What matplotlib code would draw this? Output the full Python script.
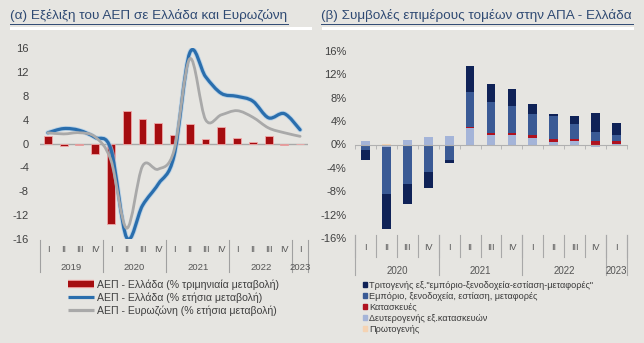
import numpy as np
import matplotlib
matplotlib.use("Agg")
import matplotlib.pyplot as plt
from matplotlib.path import Path
from matplotlib.patches import PathPatch, Rectangle
from matplotlib.lines import Line2D
import matplotlib.patheffects as pe

plt.rcParams['font.family'] = ['Liberation Sans', 'DejaVu Sans']

# ---------------- data: left panel ----------------
left_quarters = ['I', 'II', 'III', 'IV'] * 4 + ['I']
left_years = ['2019', '2020', '2021', '2022', '2023']
gdp_gr_qoq = [1.2, -0.4, -0.3, -1.8, -13.5, 5.5, 4.1, 3.4, 1.4, 3.3, 0.7, 2.7,
              1.0, 0.3, 1.2, -0.2, 0.0]
gdp_gr_yoy = [1.8, 2.5, 2.2, 1.0, -1.0, -15.8, -10.4, -6.8, -2.1, 15.2, 11.2,
              8.4, 7.9, 7.1, 4.3, 5.0, 2.3]
gdp_ez_yoy = [1.8, 1.6, 1.8, 1.1, -2.8, -14.2, -3.8, -4.3, -1.2, 14.2, 4.0,
              4.8, 5.5, 4.4, 2.6, 1.8, 1.2]
left_yticks = [-16, -12, -8, -4, 0, 4, 8, 12, 16]
left_labels = ['ΑΕΠ - Ελλάδα (% τριμηνιαία μεταβολή)',
               'ΑΕΠ - Ελλάδα (% ετήσια μεταβολή)',
               'ΑΕΠ - Ευρωζώνη (% ετήσια μεταβολή)']

# ---------------- data: right panel ----------------
right_quarters = ['I', 'II', 'III', 'IV'] * 3 + ['I']
right_years = ['2020', '2021', '2022', '2023']
primary = [0.0, 0.1, -0.3, -0.2, 0.0, 0.0, 0.0, -0.2, 0.0, 0.0, 0.0, 0.0, 0.0]
secondary = [0.6, -0.5, 0.85, 1.2, 1.4, 2.9, 1.6, 1.7, 1.15, 0.35, 0.55, -0.4, 0.15]
construction = [0.0, 0.0, 0.0, 0.0, 0.0, 0.1, 0.4, 0.35, 0.45, 0.55, 0.45, 0.6, 0.45]
trade = [-1.0, -8.0, -6.4, -4.5, -2.6, 5.9, 5.3, 4.55, 3.7, 3.95, 2.45, 1.6, 0.95]
tertiary_ex = [-1.7, -6.0, -3.5, -2.8, -0.6, 4.6, 3.1, 2.85, 1.6, 0.35, 1.4, 3.2, 2.1]
right_yticks = [-16, -12, -8, -4, 0, 4, 8, 12, 16]
right_labels = ['Τριτογενής εξ."εμπόριο-ξενοδοχεία-εστίαση-μεταφορές"',
                'Εμπόριο, ξενοδοχεία, εστίαση, μεταφορές',
                'Κατασκευές',
                'Δευτερογενής εξ.κατασκευών',
                'Πρωτογενής']

# ---------------- style ----------------
BG = '#e6e5e1'
TITLE_C = '#2f4a73'
TXT = '#404040'
RED = '#a50d10'
BLUE = '#2a6ead'
GREY = '#a9a9a9'
C_TER = '#0f2257'
C_TRADE = '#3a5a95'
C_CONS = '#b0121f'
C_SEC = '#a4b4d8'
C_PRIM = '#f5d3b3'

W, H = 644, 343
fig = plt.figure(figsize=(W / 100, H / 100), dpi=100, facecolor=BG)


def ax_rect(x0, y0, x1, y1):
    return [x0 / W, 1 - y1 / H, (x1 - x0) / W, (y1 - y0) / H]


def smooth_path(xs, ys, k=1 / 6):
    pts = np.column_stack([xs, ys]).astype(float)
    n = len(pts)
    verts = [pts[0]]
    codes = [Path.MOVETO]
    for i in range(n - 1):
        p0 = pts[i - 1] if i > 0 else pts[i]
        p1 = pts[i]
        p2 = pts[i + 1]
        p3 = pts[i + 2] if i + 2 < n else pts[i + 1]
        c1 = p1 + (p2 - p0) * k
        c2 = p2 - (p3 - p1) * k
        verts += [c1, c2, p2]
        codes += [Path.CURVE4] * 3
    return Path(verts, codes)


# ---------------- titles ----------------
fig.text(10 / W, 1 - 16 / H, '(α) Εξέλιξη του ΑΕΠ σε Ελλάδα και Ευρωζώνη',
         color=TITLE_C, fontsize=9.7, va='center', ha='left')
fig.text(321 / W, 1 - 16 / H, '(β) Συμβολές επιμέρους τομέων στην ΑΠΑ - Ελλάδα',
         color=TITLE_C, fontsize=9.7, va='center', ha='left')
for (x0, x1) in [(10, 288), (321, 633)]:
    fig.add_artist(Line2D([x0 / W, x1 / W], [1 - 23.5 / H] * 2, color=TITLE_C, lw=0.7))
for (x0, x1) in [(10, 312), (322, 634)]:
    fig.add_artist(Rectangle((x0 / W, 1 - 30 / H), (x1 - x0) / W, 2.5 / H,
                             transform=fig.transFigure, facecolor='white',
                             edgecolor='none'))

# ---------------- left panel ----------------
axL = fig.add_axes(ax_rect(40, 48, 308, 239))
axL.set_facecolor(BG)
nL = len(gdp_gr_qoq)
xL = np.arange(nL)
axL.bar(xL, gdp_gr_qoq, width=0.5, color=RED, edgecolor='#f0a8a8',
        linewidth=0.6, zorder=2)
axL.axhline(0, color='#a8a8a8', lw=1.0, zorder=1)

blue_patch = PathPatch(smooth_path(xL, gdp_gr_yoy), fill=False, edgecolor=BLUE,
                       lw=2.3, zorder=3, capstyle='round', joinstyle='round')
blue_patch.set_path_effects([pe.Stroke(linewidth=3.6, foreground='#a9cbe8', alpha=0.7),
                             pe.Normal()])
axL.add_patch(blue_patch)
grey_patch = PathPatch(smooth_path(xL, gdp_ez_yoy), fill=False, edgecolor=GREY,
                       lw=2.0, zorder=4, capstyle='round', joinstyle='round')
axL.add_patch(grey_patch)

axL.set_xlim(-0.5, nL - 0.5)
axL.set_ylim(-16, 16)
axL.set_yticks(left_yticks)
axL.set_yticklabels([str(v) for v in left_yticks])
axL.tick_params(axis='y', length=0, pad=8, labelsize=8, labelcolor=TXT)
axL.set_xticks([])
for s in axL.spines.values():
    s.set_visible(False)

trL = axL.get_xaxis_transform()
hL = 191.0
for i, q in enumerate(left_quarters):
    axL.text(i, -10 / hL, q, transform=trL, ha='center', va='center',
             fontsize=6.5, color='#555555')
year_bounds_L = [-0.5, 3.5, 7.5, 11.5, 15.5, 16.5]
for b in year_bounds_L:
    axL.add_line(Line2D([b, b], [-1 / hL, -33 / hL], transform=trL, color='#a0a0a0',
                        lw=0.8, clip_on=False))
for j, yr in enumerate(left_years):
    c = (year_bounds_L[j] + year_bounds_L[j + 1]) / 2
    axL.text(c, -28 / hL, yr, transform=trL, ha='center', va='center',
             fontsize=6.8, color='#555555')

handles_L = [Line2D([], [], color=RED, lw=4.5, solid_capstyle='butt',
                    path_effects=[pe.Stroke(linewidth=6, foreground='#f3a5a5'), pe.Normal()]),
             Line2D([], [], color=BLUE, lw=2.3, solid_capstyle='butt'),
             Line2D([], [], color=GREY, lw=2.3, solid_capstyle='butt')]
legL = fig.legend(handles_L, left_labels, loc='upper left',
                  bbox_to_anchor=(61 / W, 1 - 272 / H), frameon=False,
                  fontsize=7.6, labelcolor=TXT, handlelength=2.4,
                  handletextpad=0.3, labelspacing=0.22, borderpad=0.2)

# ---------------- right panel ----------------
axR = fig.add_axes(ax_rect(355, 51, 627, 238))
axR.set_facecolor(BG)
nR = len(trade)
xR = np.arange(nR)
series = [(primary, C_PRIM), (secondary, C_SEC), (construction, C_CONS),
          (trade, C_TRADE), (tertiary_ex, C_TER)]
pos = np.zeros(nR)
neg = np.zeros(nR)
for vals, col in series:
    v = np.asarray(vals, dtype=float)
    bottom = np.where(v >= 0, pos, neg)
    axR.bar(xR, v, bottom=bottom, width=0.42, color=col, edgecolor='none', zorder=2)
    pos = np.where(v >= 0, pos + v, pos)
    neg = np.where(v < 0, neg + v, neg)

axR.set_xlim(-0.5, nR - 0.5)
axR.set_ylim(-16, 16)
axR.set_yticks(right_yticks)
axR.set_yticklabels([f'{v}%' for v in right_yticks])
axR.tick_params(axis='y', length=0, pad=6, labelsize=8, labelcolor=TXT)
for s in ['top', 'right', 'left']:
    axR.spines[s].set_visible(False)
axR.spines['bottom'].set_position(('data', 0))
axR.spines['bottom'].set_color('#b0b0b0')
axR.spines['bottom'].set_zorder(3)
axR.set_xticks([])
axR.set_xticks(np.arange(-0.5, nR), minor=True)
axR.tick_params(axis='x', which='minor', length=3, color='#b0b0b0', direction='out')

trR = axR.get_xaxis_transform()
hR = 187.0
for i, q in enumerate(right_quarters):
    axR.text(i, -10 / hR, q, transform=trR, ha='center', va='center',
             fontsize=6.5, color='#555555')
for b in np.arange(-0.5, nR):
    axR.add_line(Line2D([b, b], [3 / hR, -19 / hR], transform=trR, color='#a8a8a8',
                        lw=0.8, clip_on=False))
year_bounds_R = [-0.5, 3.5, 7.5, 11.5, 12.5]
for b in year_bounds_R:
    axR.add_line(Line2D([b, b], [3 / hR, -37 / hR], transform=trR, color='#a8a8a8',
                        lw=0.8, clip_on=False))
for j, yr in enumerate(right_years):
    c = (year_bounds_R[j] + year_bounds_R[j + 1]) / 2
    axR.text(c, -33 / hR, yr, transform=trR, ha='center', va='center',
             fontsize=7, color='#555555')

handles_R = [Rectangle((0, 0), 1, 1, color=C_TER), Rectangle((0, 0), 1, 1, color=C_TRADE),
             Rectangle((0, 0), 1, 1, color=C_CONS), Rectangle((0, 0), 1, 1, color=C_SEC),
             Rectangle((0, 0), 1, 1, color=C_PRIM)]
legR = fig.legend(handles_R, right_labels, loc='upper left',
                  bbox_to_anchor=(357 / W, 1 - 275 / H), frameon=False,
                  fontsize=6.6, labelcolor='#3a3a3a', handlelength=0.45,
                  handleheight=0.45, handletextpad=0.25, labelspacing=0.22,
                  borderpad=0.1)

fig.savefig('out.png', dpi=100, facecolor=BG)
